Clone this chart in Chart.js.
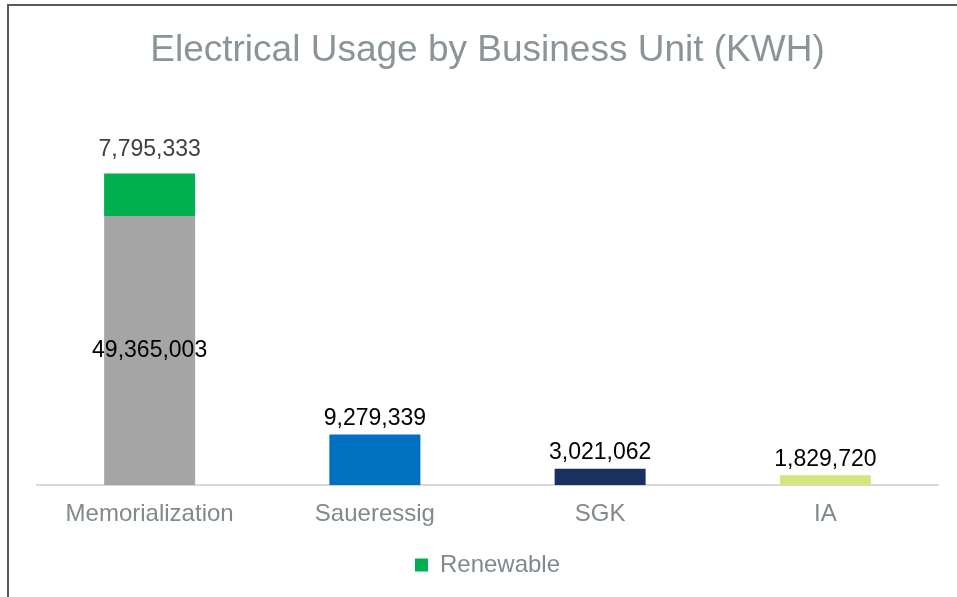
<!DOCTYPE html>
<html>
<head>
<meta charset="utf-8">
<script src="https://cdn.jsdelivr.net/npm/chart.js@4"></script>
<style>
  body { margin: 0; background: #fff; }
  #wrap { position: relative; width: 957px; height: 597px; }
  #frame { position: absolute; left: 7px; top: 4px; right: 0; bottom: 0;
           border-top: 2px solid #595959; border-left: 2px solid #595959; }
  canvas { position: absolute; left: 0; top: 0; }
</style>
</head>
<body>
<div id="wrap">
  <div id="frame"></div>
  <canvas id="myChart" width="957" height="597"></canvas>
</div>
<script>
const units = ['Memorialization', 'Saueressig', 'SGK', 'IA'];
const usage = [49365003, 9279339, 3021062, 1829720];
const renewable = [7795333, null, null, null];
const unitColors = ['#a5a5a5', '#0070c0', '#17325f', '#d4e57b'];
const renewableColor = '#00b050';

const fmt = v => v.toLocaleString('en-US');

// draws the value labels: inside the bar when something is stacked on it, else above it
const valueLabels = {
    id: 'valueLabels',
    afterDatasetsDraw(chart) {
        const ctx = chart.ctx;
        ctx.save();
        ctx.font = '23px "Liberation Sans", Arial, sans-serif';
        ctx.textAlign = 'center';
        ctx.textBaseline = 'middle';
        chart.data.datasets.forEach((ds, di) => {
            const meta = chart.getDatasetMeta(di);
            meta.data.forEach((bar, i) => {
                const v = ds.data[i];
                if (v == null) return;
                const above = chart.data.datasets.slice(di + 1).some(d => d.data[i] != null);
                ctx.fillStyle = ds.labelColor;
                if (above) {
                    ctx.fillText(fmt(v), bar.x, (bar.y + bar.base) / 2);
                } else {
                    ctx.fillText(fmt(v), bar.x, bar.y - ds.labelOffset);
                }
            });
        });
        ctx.restore();
    }
};

new Chart(document.getElementById('myChart'), {
    type: 'bar',
    data: {
        labels: units,
        datasets: [{
            label: 'Usage',
            data: usage,
            backgroundColor: unitColors,
            labelColor: '#000000',
            labelOffset: 16,
            barPercentage: 0.404,
            categoryPercentage: 1
        }, {
            label: 'Renewable',
            data: renewable,
            backgroundColor: renewableColor,
            labelColor: '#404040',
            labelOffset: 24,
            barPercentage: 0.404,
            categoryPercentage: 1
        }]
    },
    options: {
        responsive: false,
        animation: false,
        layout: {
            padding: { left: 37, right: 19, top: 4, bottom: 10 }
        },
        plugins: {
            title: {
                display: true,
                text: 'Electrical Usage by Business Unit (KWH)',
                color: '#8a9499',
                font: { size: 37, family: '"Liberation Sans", Arial, sans-serif', weight: 'normal' },
                padding: { top: 25, bottom: 30 }
            },
            legend: {
                position: 'bottom',
                labels: {
                    filter: item => item.text === 'Renewable',
                    color: '#80898d',
                    boxWidth: 13,
                    boxHeight: 13,
                    font: { size: 24, family: '"Liberation Sans", Arial, sans-serif' }
                }
            },
            tooltip: { enabled: false }
        },
        scales: {
            x: {
                stacked: true,
                grid: { display: false },
                border: { display: true, color: '#d9d9d9', width: 2 },
                ticks: {
                    color: '#80898d',
                    padding: 7,
                    font: { size: 24, family: '"Liberation Sans", Arial, sans-serif' }
                },
                afterFit: scale => { scale.height += 7; }
            },
            y: {
                stacked: true,
                display: false,
                min: 0,
                max: 70000000
            }
        }
    },
    plugins: [valueLabels]
});
</script>
</body>
</html>
